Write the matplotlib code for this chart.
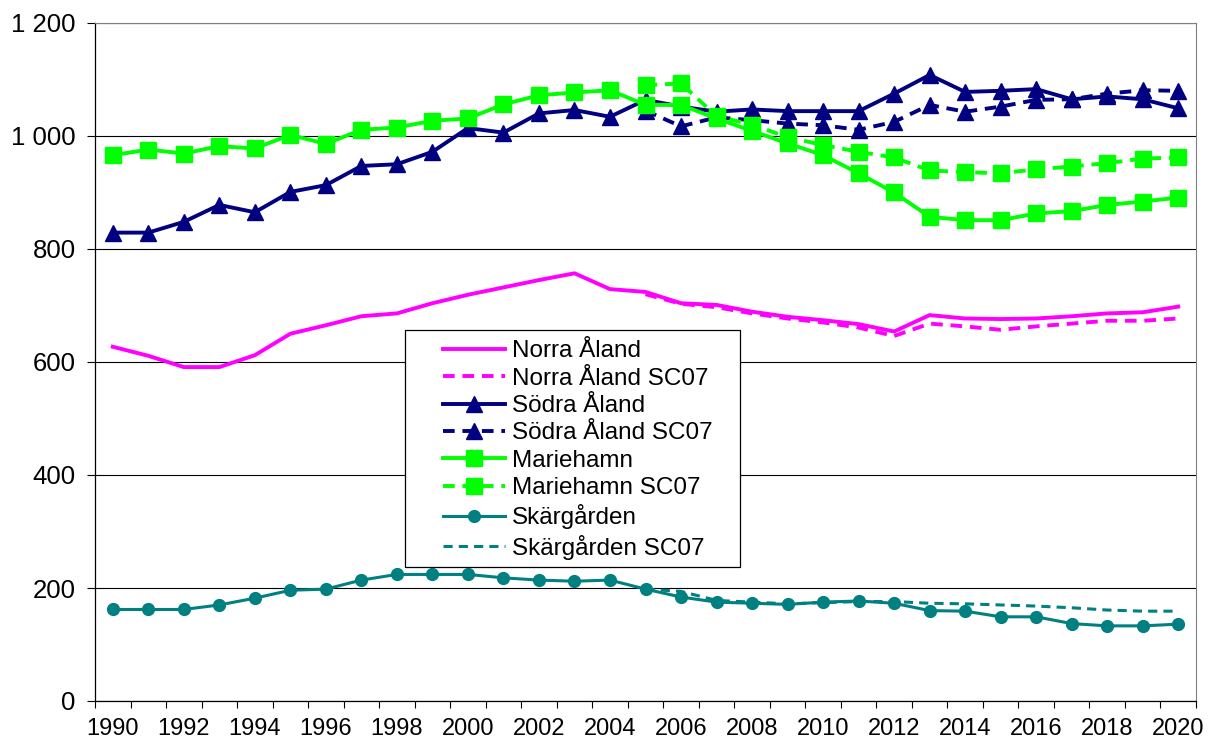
import matplotlib.pyplot as plt
from matplotlib.ticker import FuncFormatter, MultipleLocator
from matplotlib.patches import Rectangle

plt.rcParams['font.family'] = ['Liberation Sans', 'DejaVu Sans']

# categories
years = list(range(1990, 2021))
years_sc07 = list(range(2005, 2021))

# actual population per region
norra = [627, 611, 591, 591, 612, 650, 665, 681, 686, 704, 719, 732, 745, 757, 729,
         724, 704, 701, 689, 680, 674, 667, 654, 683, 677, 676, 677, 681, 686, 688, 698]
sodra = [829, 829, 848, 878, 865, 901, 913, 947, 950, 972, 1014, 1006, 1040, 1046, 1034,
         1064, 1052, 1043, 1047, 1044, 1044, 1044, 1075, 1108, 1078, 1080, 1083, 1065, 1070, 1065, 1049]
mariehamn = [966, 976, 969, 982, 978, 1002, 986, 1011, 1015, 1027, 1031, 1056, 1072, 1077, 1081,
             1055, 1055, 1031, 1009, 987, 966, 934, 900, 857, 851, 851, 863, 867, 878, 884, 891]
skargarden = [162, 162, 162, 170, 182, 196, 198, 214, 224, 224, 224, 218, 214, 212, 214,
              198, 184, 175, 173, 171, 175, 177, 173, 160, 159, 149, 149, 137, 133, 133, 136]

# SC07 series (from 2005)
norra_sc07 = [720, 703, 697, 686, 677, 670, 661, 646, 668, 663, 657, 663, 668, 673, 673, 677]
sodra_sc07 = [1045, 1017, 1033, 1028, 1022, 1019, 1011, 1025, 1055, 1043, 1052, 1064, 1065, 1075, 1081, 1080]
mariehamn_sc07 = [1090, 1093, 1035, 1020, 998, 984, 972, 962, 939, 936, 934, 941, 946, 952, 960, 962]
skargarden_sc07 = [198, 194, 178, 175, 172, 174, 176, 176, 173, 172, 170, 168, 165, 161, 159, 159]

magenta = '#FF00FF'
navy = '#000080'
green = '#00FF00'
teal = '#008080'
dash = (3, 2)

fig = plt.figure(figsize=(12.08, 7.49), dpi=100)
ax = fig.add_axes([95 / 1208, 48 / 749, 1101 / 1208, 678 / 749])

ax.plot(years, norra, color=magenta, lw=2.8, label='Norra Åland')
ax.plot(years_sc07, norra_sc07, color=magenta, lw=2.8, dashes=dash, label='Norra Åland SC07')
ax.plot(years, sodra, color=navy, lw=2.8, marker='^', ms=12, mec=navy, label='Södra Åland')
ax.plot(years_sc07, sodra_sc07, color=navy, lw=2.8, dashes=dash, marker='^', ms=12, mec=navy,
        label='Södra Åland SC07')
ax.plot(years, mariehamn, color=green, lw=2.8, marker='s', ms=11.5, mec=green, label='Mariehamn')
ax.plot(years_sc07, mariehamn_sc07, color=green, lw=2.8, dashes=dash, marker='s', ms=11.5, mec=green,
        label='Mariehamn SC07')
ax.plot(years, skargarden, color=teal, lw=2.2, marker='o', ms=8.5, mec=teal, label='Skärgården')
ax.plot(years_sc07, skargarden_sc07, color=teal, lw=2.2, dashes=dash, label='Skärgården SC07')

ax.set_xlim(1989.53, 2020.47)
ax.set_ylim(0, 1200)

# y axis
ax.yaxis.set_major_locator(MultipleLocator(200))
ax.yaxis.set_major_formatter(FuncFormatter(lambda v, p: '{:,.0f}'.format(v).replace(',', ' ')))
ax.yaxis.grid(True, color='black', lw=0.8)
ax.set_axisbelow(True)
ax.tick_params(axis='y', direction='out', length=6, width=0.8, pad=8, labelsize=18.5)

# x axis: labels every second year, tick marks between categories
ax.set_xticks(years[::2])
ax.set_xticks([y - 0.5 for y in years] + [2020.5], minor=True)
ax.tick_params(axis='x', which='major', length=0, pad=12, labelsize=17)
ax.tick_params(axis='x', which='minor', direction='out', length=5, width=0.8)

for s in ['top', 'right']:
    ax.spines[s].set_color('#808080')
for s in ['left', 'bottom']:
    ax.spines[s].set_color('black')
    ax.spines[s].set_linewidth(0.9)

# legend box
box = Rectangle((0.2816, 0.1976), 0.3042, 0.3496, transform=ax.transAxes,
                facecolor='white', edgecolor='black', lw=0.9, zorder=5)
ax.add_patch(box)
leg = ax.legend(loc='upper left', bbox_to_anchor=(0.316, 0.532), frameon=False,
                fontsize=17.5, handlelength=2.55, handletextpad=0.3, labelspacing=0.22,
                borderpad=0, borderaxespad=0)
leg.set_zorder(6)

plt.savefig('out.png', dpi=100)
